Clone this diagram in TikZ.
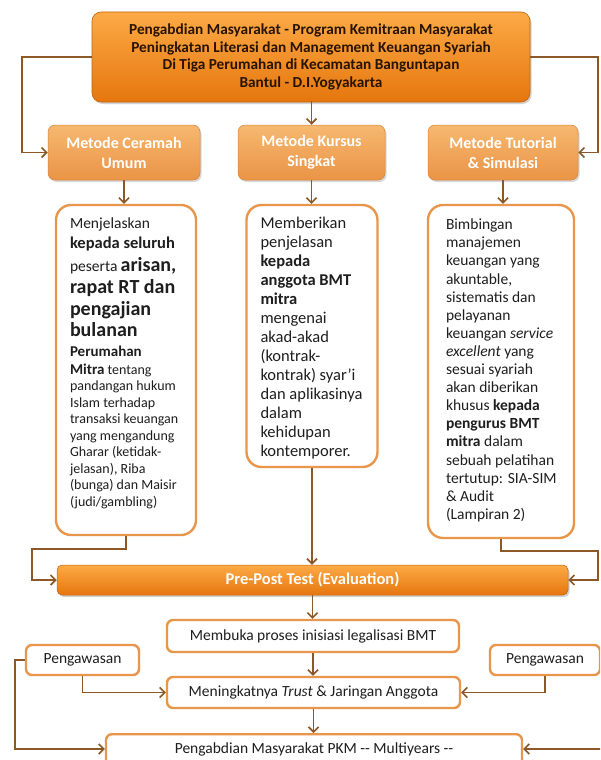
\documentclass[tikz,border=0pt]{standalone}
\usepackage{fontspec}
\setmainfont{Carlito}
\usetikzlibrary{arrows.meta,shadows,calc}
\definecolor{conncol}{RGB}{140,88,40}
\definecolor{boxedge}{RGB}{232,150,75}
\definecolor{toptop}{RGB}{252,170,70}
\definecolor{topbot}{RGB}{230,118,14}
\definecolor{mettop}{RGB}{246,184,112}
\definecolor{metbot}{RGB}{234,148,70}
\definecolor{txtdark}{RGB}{30,30,30}
\definecolor{toptext}{RGB}{40,20,0}
\newcommand{\nolsl}{\lineskiplimit -100pt\relax}
\begin{document}
\begin{tikzpicture}[x=1pt,y=-1pt,
  conn/.style={draw=conncol,line width=1.9pt,-{Straight Barb[length=5pt,width=10pt,line width=1.6pt]}},
  topbox/.style={rectangle,rounded corners=9pt,top color=toptop,bottom color=topbot,draw=topbot!85!black,line width=0.6pt,
     drop shadow={shadow xshift=1.5pt,shadow yshift=-2pt,opacity=0.35}},
  metbox/.style={rectangle,rounded corners=7pt,top color=mettop,bottom color=metbot,draw=metbot!90!black,line width=0.5pt,
     minimum height=55pt,text=white,font={\fontsize{16}{20}\selectfont\bfseries},align=center,
     drop shadow={shadow xshift=1.5pt,shadow yshift=-2pt,opacity=0.3}},
  descbox/.style={rectangle,rounded corners=15pt,draw=boxedge,line width=2.4pt,fill=white},
  desctext/.style={anchor=north west,inner sep=0pt,align=left,text=txtdark},
  lowbox/.style={rectangle,rounded corners=6pt,draw=boxedge,line width=2.4pt,fill=white,text=txtdark,
     font={\fontsize{15.5}{18}\selectfont},inner sep=0pt},
  ppbox/.style={rectangle,rounded corners=5pt,top color=toptop,bottom color=topbot,draw=topbot!85!black,line width=0.5pt,
     text=white,font={\fontsize{16.5}{20}\selectfont\bfseries},inner sep=0pt,
     drop shadow={shadow xshift=1.5pt,shadow yshift=-2pt,opacity=0.35}}
]
\useasboundingbox (0,0) rectangle (600,760);
\clip (0,0) rectangle (600,760);
\fill[white] (0,0) rectangle (600,760);

% top box
\node[topbox,minimum width=438pt,minimum height=90pt,text=toptext,align=center,
      font={\fontsize{15.3}{17.5}\selectfont\bfseries}] (top) at (311,57)
  {Pengabdian Masyarakat - Program Kemitraan Masyarakat\\
   Peningkatan Literasi dan Management Keuangan Syariah\\
   Di Tiga Perumahan di Kecamatan Banguntapan\\
   Bantul - D.I.Yogyakarta};

% method boxes
\node[metbox,minimum width=152pt] (cer) at (124,152.5) {Metode Ceramah\\Umum};
\node[metbox,minimum width=147pt] (kur) at (311.5,152.5) {Metode Kursus\\Singkat};
\node[metbox,minimum width=150pt] (tut) at (503,152.5) {Metode Tutorial\\\& Simulasi};

% description boxes
\node[descbox,minimum width=140pt,minimum height=330pt] (cerd) at (126,370) {};
\node[descbox,minimum width=131pt,minimum height=262pt] (kurd) at (312,336) {};
\node[descbox,minimum width=146pt,minimum height=333pt] (tutd) at (501,371.5) {};

\node[desctext,font={\fontsize{14}{16.5}\selectfont\nolsl}] (cert) at ([xshift=15pt,yshift=-14pt]cerd.north west)
  {{\fontsize{15.5}{16}\selectfont Menjelaskan}\\[3.5pt]
   {\fontsize{16.5}{16}\selectfont\bfseries kepada seluruh}\\[6.5pt]
   {\fontsize{15.5}{16}\selectfont peserta} {\fontsize{20}{20}\selectfont\bfseries arisan,}\\[5.5pt]
   {\fontsize{20}{20}\selectfont\bfseries rapat RT dan}\\[5.5pt]
   {\fontsize{20}{20}\selectfont\bfseries pengajian}\\[4.5pt]
   {\fontsize{20}{20}\selectfont\bfseries bulanan}\\[3.5pt]
   {\fontsize{15}{16}\selectfont\bfseries Perumahan}\\[1pt]
   {\fontsize{15}{16}\selectfont\bfseries Mitra} tentang\\
   pandangan hukum\\
   Islam terhadap\\
   transaksi keuangan\\
   yang mengandung\\
   Gharar (ketidak-\\
   jelasan), Riba\\
   (bunga) dan Maisir\\
   (judi/gambling)};

\node[desctext,font={\fontsize{16.5}{19}\selectfont}] (kurt) at ([xshift=15pt,yshift=-13pt]kurd.north west)
  {Memberikan\\
   penjelasan\\
   \textbf{kepada}\\
   \textbf{anggota BMT}\\
   \textbf{mitra}\\
   mengenai\\
   akad-akad\\
   (kontrak-\\
   kontrak) syar'i\\
   dan aplikasinya\\
   dalam\\
   kehidupan\\
   kontemporer.};

\node[desctext,font={\fontsize{15.5}{18.1}\selectfont}] (tutt) at ([xshift=19pt,yshift=-15pt]tutd.north west)
  {Bimbingan\\
   manajemen\\
   keuangan yang\\
   akuntable,\\
   sistematis dan\\
   pelayanan\\
   keuangan \textit{service}\\
   \textit{excellent} yang\\
   sesuai syariah\\
   akan diberikan\\
   khusus \textbf{kepada}\\
   \textbf{pengurus BMT}\\
   \textbf{mitra} dalam\\
   sebuah pelatihan\\
   tertutup: SIA-SIM\\
   \& Audit\\
   (Lampiran 2)};

% pre-post
\node[ppbox,minimum width=511pt,minimum height=30pt] (pp) at (312.5,580) {Pre-Post Test (Evaluation)};

% lower boxes
\node[lowbox,minimum width=292pt,minimum height=32pt] (mem) at (313,636) {Membuka proses inisiasi legalisasi BMT};
\node[lowbox,minimum width=293pt,minimum height=31pt] (men) at (313.5,692.5) {Meningkatnya \textit{Trust} \& Jaringan Anggota};
\node[lowbox,minimum width=113pt,minimum height=30pt] (pl) at (82.5,660) {Pengawasan};
\node[lowbox,minimum width=110pt,minimum height=30pt] (pr) at (545,660) {Pengawasan};
\node[lowbox,minimum width=416pt,minimum height=36pt,anchor=north] (pkm) at (314,733) {};
\node[inner sep=0pt,text=txtdark,font={\fontsize{15.5}{18}\selectfont}] (pkmt) at (314,749) {Pengabdian Masyarakat PKM {-}{-} Multiyears {-}{-}};

% helper coordinates
\coordinate (L1) at (22,0);
\coordinate (R1) at (598,0);
\coordinate (a1) at (32,549);
\coordinate (a2) at (598,551);
\coordinate (L2) at (15,0);
\coordinate (R2) at (602,0);

% connectors
\draw[conn] (top.west) -- (top.west -| L1) |- (cer.west);
\draw[conn] (top.east) -- (top.east -| R1) |- (tut.east);
\draw[conn] (top.south) -- (top.south -| kur.north) -- (kur.north);
\draw[conn] (cer.south) -- (cer.south |- cerd.north);
\draw[conn] (kur.south) -- (kur.south |- kurd.north);
\draw[conn] (tut.south) -- (tut.south |- tutd.north);
\draw[conn] (cerd.south) |- (a1) |- (pp.west);
\draw[conn] (kurd.south) -- (kurd.south |- pp.north);
\draw[conn] (tutd.south) |- (a2) |- (pp.east);
\draw[conn] (pp.south) -- (pp.south |- mem.north);
\draw[conn] (mem.south) -- (mem.south |- men.north);
\draw[conn] (men.south) -- (men.south |- pkm.north);
\draw[conn] (pl.south) |- (men.west);
\draw[conn] (pr.south) |- (men.east);
\draw[conn] (pl.west) -- (pl.west -| L2) |- (pkmt.west -| pkm.west);
\draw[conn] (pkmt.east -| R2) -- (pkmt.east -| pkm.east);
\end{tikzpicture}
\end{document}
